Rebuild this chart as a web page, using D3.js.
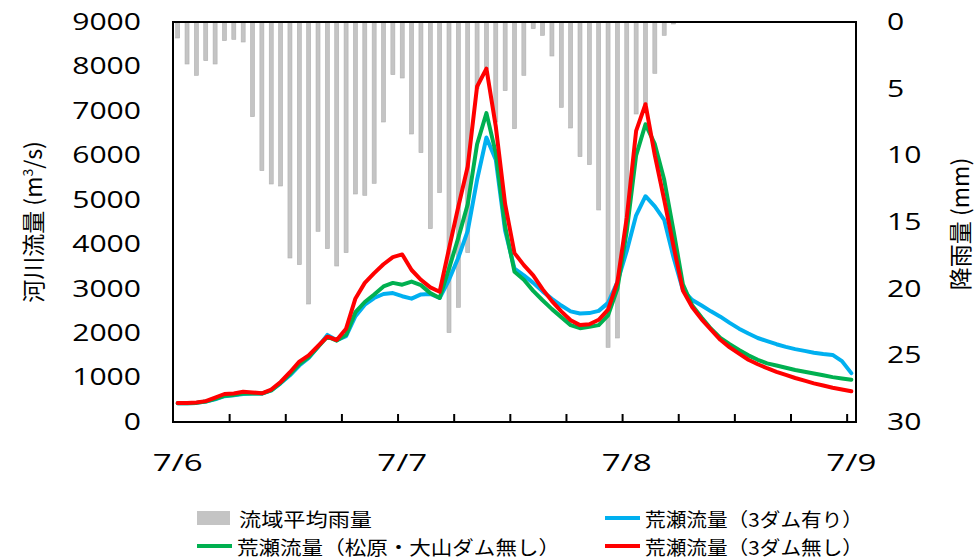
<!DOCTYPE html>
<html><head><meta charset="utf-8">
<script src="https://cdn.jsdelivr.net/npm/d3@7"></script>
<style>body{margin:0;background:#fff;} svg{display:block;}</style>
</head><body><svg id="c" width="980" height="558"></svg>
<script>
// ---- data (hourly categories, 7/6 0:00 - 7/9 0:00) ----
const hours = d3.range(73);
const rain = [1.2,3.15,4.0,2.9,3.15,1.4,1.3,1.5,7.1,11.15,12.15,12.3,17.7,18.2,21.15,15.7,17.0,18.3,17.3,12.9,13.0,12.1,7.5,3.95,4.2,8.4,9.8,15.5,12.8,23.3,21.4,17.3,5.0,3.5,7.5,5.15,8.0,4.0,0.5,1.0,2.55,6.4,7.95,10.1,10.7,14.1,24.4,23.7,15.0,6.9,6.2,3.85,1.0,0.15,0,0,0,0,0,0,0,0,0,0,0,0,0,0,0,0,0,0,0];
const flowWith3Dams = [420,420,430,460,510,580,600,630,640,640,710,870,1050,1270,1440,1690,1960,1840,1930,2380,2640,2790,2880,2900,2830,2775,2870,2880,2790,3200,3700,4300,5450,6400,5900,4300,3450,3300,3130,2940,2770,2620,2490,2440,2450,2500,2680,3150,3850,4650,5080,4850,4550,3700,2970,2745,2620,2490,2370,2230,2100,1990,1890,1820,1750,1690,1640,1600,1560,1530,1510,1370,1100];
const flowNoMatsubaraOyama = [420,420,430,460,520,590,610,640,640,640,710,880,1080,1300,1460,1690,1920,1830,1960,2470,2700,2870,3050,3130,3090,3160,3080,2900,2790,3450,4150,4900,6250,6950,6050,4400,3380,3200,2950,2740,2540,2360,2180,2110,2140,2180,2400,3000,4300,6000,6700,6250,5450,4300,3100,2620,2350,2100,1890,1750,1620,1500,1400,1320,1270,1220,1170,1130,1090,1050,1010,980,950];
const flowNo3Dams = [430,430,440,470,550,630,640,680,665,645,730,900,1120,1360,1500,1710,1920,1845,2100,2780,3130,3350,3550,3710,3770,3420,3200,3030,2930,3900,4850,5750,7550,7950,6650,4900,3800,3530,3300,2990,2720,2490,2290,2180,2200,2300,2530,3150,4600,6550,7150,6000,5000,3950,2960,2580,2310,2080,1850,1680,1540,1400,1300,1210,1130,1060,990,930,870,820,770,730,690];
const leftTicks = [0,1000,2000,3000,4000,5000,6000,7000,8000,9000];
const rightTicks = [0,5,10,15,20,25,30];
const dayLabels = ["7/6","7/7","7/8","7/9"];
const dayIndex = [0,24,48,72];
const legendNames = ["流域平均雨量","荒瀬流量（3ダム有り）","荒瀬流量（松原・大山ダム無し）","荒瀬流量（3ダム無し）"];
const colors = {rain:"#c0c0c0", with3:"#00b0f0", noMO:"#00b050", no3:"#ff0000"};

const svg = d3.select("#c");
const L=173, R=856, T=22, B=422;
const x = d3.scaleLinear().domain([0,73]).range([L,R]);
const yL = d3.scaleLinear().domain([0,9000]).range([B,T]);
const yR = d3.scaleLinear().domain([0,30]).range([T,B]);
const NUM = "'Open Sans', 'DejaVu Sans', sans-serif";
const JP = "'Noto Sans CJK JP', sans-serif";

// bars (rain, hanging from the top)
svg.append("g").selectAll("rect").data(rain).join("rect")
  .attr("x",(d,i)=>x(i+0.5)-2).attr("y",yR(0))
  .attr("width",4).attr("height",d=>yR(d)-yR(0))
  .attr("fill","#c4c4c4").attr("stroke","#b0b0b0").attr("stroke-width",0.6);

// lines
const line = d3.line().x((d,i)=>x(i+0.5)).y(d=>yL(d));
[[flowWith3Dams,colors.with3],[flowNoMatsubaraOyama,colors.noMO],[flowNo3Dams,colors.no3]].forEach(([s,c])=>{
  svg.append("path").datum(s).attr("d",line).attr("fill","none")
    .attr("stroke",c).attr("stroke-width",4).attr("stroke-linejoin","round").attr("stroke-linecap","round");
});

// frame
svg.append("rect").attr("x",L).attr("y",T).attr("width",R-L).attr("height",B-T)
  .attr("fill","none").attr("stroke","#000").attr("stroke-width",2);

// bottom ticks
const xa = svg.append("g").attr("transform",`translate(0,${B})`)
  .call(d3.axisBottom(x).tickValues(d3.range(6,73,6)).tickSize(-8).tickFormat(""));
xa.select(".domain").remove();
xa.selectAll("line").attr("stroke","#000").attr("stroke-width",2);

// left axis labels
const ya = svg.append("g").attr("transform",`translate(${L},0)`)
  .call(d3.axisLeft(yL).tickValues(leftTicks).tickSize(0).tickPadding(32).tickFormat(d3.format("d")));
ya.select(".domain").remove();
ya.selectAll("text").attr("font-family",NUM).attr("font-size",23).attr("fill","#000")
  .attr("textLength",d=>String(d).length*17.2).attr("lengthAdjust","spacingAndGlyphs");

// right axis labels
const yr = svg.append("g").attr("transform",`translate(${R},0)`)
  .call(d3.axisRight(yR).tickValues(rightTicks).tickSize(0).tickPadding(31).tickFormat(d3.format("d")));
yr.select(".domain").remove();
yr.selectAll("text").attr("font-family",NUM).attr("font-size",23).attr("fill","#000")
  .attr("textLength",d=>String(d).length*17.2).attr("lengthAdjust","spacingAndGlyphs");

// day labels
svg.append("g").selectAll("text").data(dayLabels).join("text")
  .attr("x",(d,i)=>x(dayIndex[i]+0.5)).attr("y",471)
  .attr("text-anchor","middle").attr("font-family",NUM).attr("font-size",24)
  .attr("textLength",50).attr("lengthAdjust","spacingAndGlyphs").text(d=>d);

// axis titles
const lt = svg.append("text").attr("transform","translate(42,222) rotate(-90)")
  .attr("text-anchor","middle").attr("font-family",JP).attr("font-size",23);
lt.append("tspan").text("河川流量 (m");
lt.append("tspan").attr("font-size",14).attr("dy",-9).text("3");
lt.append("tspan").attr("dy",9).text("/s)");
svg.append("text").attr("transform","translate(969,224) rotate(-90)")
  .attr("text-anchor","middle").attr("font-family",JP).attr("font-size",23).text("降雨量 (mm)");

// legend
const lg = svg.append("g").attr("font-family",JP).attr("font-size",19);
lg.append("rect").attr("x",197).attr("y",511).attr("width",33).attr("height",14).attr("fill","#c4c4c4");
const legendItems = [
  {name:legendNames[0], tx:239, ty:518, w:133},
  {name:legendNames[1], tx:645, ty:518, w:218, c:colors.with3, lx:605},
  {name:legendNames[2], tx:237, ty:546, w:323, c:colors.noMO, lx:197},
  {name:legendNames[3], tx:645, ty:546, w:218, c:colors.no3, lx:605}
];
legendItems.forEach(it=>{
  if(it.c) lg.append("line").attr("x1",it.lx).attr("x2",it.lx+35).attr("y1",it.ty).attr("y2",it.ty)
    .attr("stroke",it.c).attr("stroke-width",4);
  lg.append("text").attr("x",it.tx).attr("y",it.ty).attr("dominant-baseline","central")
    .attr("textLength",it.w).attr("lengthAdjust","spacingAndGlyphs").text(it.name);
});
</script></body></html>
